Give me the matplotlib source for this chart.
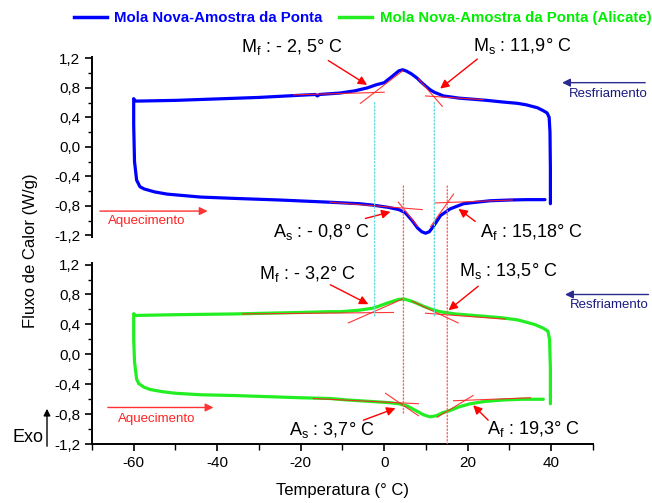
import matplotlib
matplotlib.use("Agg")
import matplotlib.pyplot as plt
from matplotlib.patches import ConnectionPatch, FancyArrowPatch
from matplotlib.lines import Line2D
from matplotlib.ticker import MultipleLocator, FuncFormatter

plt.rcParams['font.family'] = ['Liberation Sans', 'DejaVu Sans']

# ---------------- data ----------------
# Top panel (blue): cooling branch (right -> left) and heating branch (left -> right)
top_cool_T = [39.8, 39.8, 39.7, 39.5, 39.0, 38.1, 36.7, 34.0, 31.9, 28.0, 24.6, 21.4, 18.0, 15.5,
              14.2, 12.0, 11.1, 10.0, 8.8, 7.9, 6.5, 5.2, 4.4, 3.5, 2.0, 0.0, -2.0, -4.0, -7.0,
              -10.5, -13.0, -15.5, -16.0, -16.5, -20.0, -30.0, -40.0, -50.0, -59.5, -60.0]
top_cool_v = [-0.77, -0.30, 0.20, 0.40, 0.46, 0.49, 0.53, 0.57, 0.59, 0.61, 0.63, 0.645, 0.66, 0.68,
              0.69, 0.74, 0.77, 0.82, 0.88, 0.93, 0.99, 1.03, 1.045, 1.03, 0.96, 0.87, 0.84, 0.80, 0.76,
              0.73, 0.72, 0.71, 0.69, 0.71, 0.70, 0.67, 0.65, 0.63, 0.62, 0.65]
top_heat_T = [-60.0, -60.0, -59.8, -59.3, -58.5, -57.5, -55.0, -52.0, -48.0, -44.0, -35.0, -25.0,
              -13.0, -6.0, -2.6, 1.0, 3.5, 5.0, 6.7, 8.0, 9.0, 9.9, 10.8, 12.0, 13.5, 15.8, 19.0,
              22.0, 25.4, 30.0, 34.0, 38.5]
top_heat_v = [0.65, 0.30, -0.20, -0.45, -0.54, -0.57, -0.61, -0.64, -0.66, -0.68, -0.70, -0.72,
              -0.75, -0.77, -0.79, -0.82, -0.85, -0.89, -1.00, -1.10, -1.15, -1.17, -1.15, -1.06,
              -0.93, -0.84, -0.77, -0.75, -0.73, -0.72, -0.715, -0.715]

# Bottom panel (green)
bot_cool_T = [39.8, 39.8, 39.6, 39.2, 38.1, 36.0, 32.0, 28.0, 21.4, 17.0, 13.4, 11.5, 9.5, 7.5,
              6.0, 4.7, 3.5, 1.0, -2.5, -6.0, -10.5, -13.0, -20.0, -36.0, -50.0, -59.5, -60.0]
bot_cool_v = [-0.66, -0.20, 0.20, 0.31, 0.35, 0.40, 0.46, 0.49, 0.52, 0.54, 0.57, 0.60, 0.64, 0.69,
              0.72, 0.74, 0.735, 0.69, 0.62, 0.59, 0.57, 0.57, 0.56, 0.54, 0.53, 0.52, 0.54]
bot_heat_T = [-60.0, -60.0, -59.8, -59.3, -58.8, -57.5, -56.0, -53.0, -50.0, -44.0, -36.0, -28.0,
              -20.0, -13.0, -8.8, -3.0, 1.0, 3.5, 5.5, 7.5, 9.5, 11.0, 12.5, 14.0, 15.8, 18.0,
              20.6, 24.0, 28.5, 33.0, 38.1]
bot_heat_v = [0.54, 0.20, -0.10, -0.33, -0.39, -0.44, -0.47, -0.50, -0.52, -0.54, -0.55, -0.565,
              -0.58, -0.59, -0.61, -0.63, -0.645, -0.66, -0.69, -0.75, -0.81, -0.835, -0.82, -0.78,
              -0.75, -0.70, -0.66, -0.63, -0.61, -0.60, -0.60]

series_labels = ["Mola Nova-Amostra da Ponta", "Mola Nova-Amostra da Ponta (Alicate)"]

# Tangent construction lines ((T0, v0), (T1, v1))
top_tangents = [((-21.7, 0.705), (0.0, 0.74)), ((-5.7, 0.59), (4.4, 1.03)),
                ((9.9, 0.69), (23.7, 0.64)), ((8.2, 0.92), (13.9, 0.55)),
                ((-13.0, -0.75), (9.1, -0.85)), ((3.4, -0.75), (8.0, -1.08)),
                ((12.2, -0.76), (30.7, -0.72)), ((11.1, -1.08), (16.6, -0.64))]
bot_tangents = [((-33.9, 0.54), (2.2, 0.56)), ((-8.6, 0.42), (4.4, 0.74)),
                ((9.9, 0.55), (29.0, 0.47)), ((6.7, 0.71), (17.7, 0.42)),
                ((-17.0, -0.59), (8.2, -0.66)), ((0.3, -0.52), (8.2, -0.82)),
                ((16.6, -0.62), (35.0, -0.58)), ((12.7, -0.84), (21.3, -0.55))]

# Annotations: (label, text position, arrow tail, arrow head)
top_notes = [(r"M$_{\mathregular{f}}$ : - 2, 5° C", (-34.4, 1.35), (-13.4, 1.17), (-4.1, 0.84)),
             (r"M$_{\mathregular{s}}$ : 11,9° C", (21.3, 1.37), (22.3, 1.19), (13.4, 0.79)),
             (r"A$_{\mathregular{s}}$ : - 0,8° C", (-26.7, -1.15), (-4.5, -0.97), (1.5, -0.88)),
             (r"A$_{\mathregular{f}}$ : 15,18° C", (23.0, -1.15), (21.8, -1.01), (17.8, -0.84))]
bot_notes = [(r"M$_{\mathregular{f}}$ : - 3,2° C", (-30.1, 1.08), (-12.9, 0.93), (-3.8, 0.67)),
             (r"M$_{\mathregular{s}}$ : 13,5° C", (17.8, 1.12), (22.5, 0.91), (15.4, 0.59)),
             (r"A$_{\mathregular{s}}$ : 3,7° C", (-22.9, -1.01), (-5.0, -0.88), (2.7, -0.72)),
             (r"A$_{\mathregular{f}}$ : 19,3° C", (24.7, -1.00), (24.9, -0.88), (21.3, -0.68))]

# Vertical guide lines spanning both panels: (T, v_top, v_bottom, colour)
guides = [(-2.3, 0.60, 0.51, "#66dddd"), (12.0, 0.60, 0.51, "#66dddd"),
          (4.6, -0.53, -0.79, "#ff6666"), (15.1, -0.53, -1.19, "#ff6666")]

# Direction arrows: (text, tail, head, text pos)
top_heat_arrow = ("Aquecimento", (-68.1, -0.87), (-42.3, -0.87), (-66.2, -1.01))
bot_heat_arrow = ("Aquecimento", (-66.2, -0.71), (-40.9, -0.71), (-63.8, -0.86))
top_cool_arrow = ("Resfriamento", (62.5, 0.87), (42.6, 0.87), (44.2, 0.72))
bot_cool_arrow = ("Resfriamento", (63.3, 0.80), (43.3, 0.80), (44.5, 0.66))

xticks = [-60, -40, -20, 0, 20, 40]
yticks = [-1.2, -0.8, -0.4, 0.0, 0.4, 0.8, 1.2]

# ---------------- figure ----------------
fig = plt.figure(figsize=(6.52, 5.03), dpi=100)
ax1 = fig.add_axes([0.141, 0.529, 0.7685, 0.358])
ax2 = fig.add_axes([0.141, 0.117, 0.7685, 0.360], sharex=ax1)

blue = "#0000ff"
green = "#22ee22"

def yfmt(v, pos):
    s = f"{v:.1f}".replace(".", ",")
    if s == "-0,0":
        s = "0,0"
    return s

for ax in (ax1, ax2):
    ax.set_xlim(-70, 50)
    ax.set_ylim(-1.22, 1.22)
    for sp in ("top", "right"):
        ax.spines[sp].set_visible(False)
    ax.spines["left"].set_linewidth(1.4)
    ax.spines["bottom"].set_linewidth(1.4)
    ax.set_yticks(yticks)
    ax.yaxis.set_minor_locator(MultipleLocator(0.2))
    ax.yaxis.set_major_formatter(FuncFormatter(yfmt))
    ax.tick_params(axis="y", which="major", length=5, width=1.2, labelsize=11, direction="out")
    ax.tick_params(axis="y", which="minor", length=3, width=1.0, direction="out")
    ax.patch.set_alpha(0)

ax1.spines["bottom"].set_visible(False)
ax1.tick_params(axis="x", which="both", bottom=False, labelbottom=False)
ax2.set_ylim(-1.2, 1.22)
ax2.set_xticks(xticks)
ax2.xaxis.set_minor_locator(MultipleLocator(10))
ax2.xaxis.set_major_formatter(FuncFormatter(lambda v, p: f"{v:.0f}"))
ax2.tick_params(axis="x", which="major", length=5, width=1.2, labelsize=11, direction="out")
ax2.tick_params(axis="x", which="minor", length=4, width=1.0, direction="out")

# curves
ax1.plot(top_cool_T, top_cool_v, color=blue, lw=2.3, solid_capstyle="round", zorder=3)
ax1.plot(top_heat_T, top_heat_v, color=blue, lw=2.3, solid_capstyle="round", zorder=3)
ax2.plot(bot_cool_T, bot_cool_v, color=green, lw=2.3, solid_capstyle="round", zorder=3)
ax2.plot(bot_heat_T, bot_heat_v, color=green, lw=2.3, solid_capstyle="round", zorder=3)

for ax, tans in ((ax1, top_tangents), (ax2, bot_tangents)):
    for (p0, p1) in tans:
        ax.plot([p0[0], p1[0]], [p0[1], p1[1]], color="#ff2020", lw=0.8, zorder=4, alpha=0.9)

for ax, notes in ((ax1, top_notes), (ax2, bot_notes)):
    for label, tpos, tail, head in notes:
        ax.text(tpos[0], tpos[1], label, fontsize=13, ha="left", va="center", clip_on=False)
        ax.annotate("", xy=head, xytext=tail, annotation_clip=False,
                    arrowprops=dict(arrowstyle="-|>", color="red", lw=1.0,
                                    mutation_scale=13, shrinkA=0, shrinkB=0))

for T, vt, vb, col in guides:
    con = ConnectionPatch(xyA=(T, vt), coordsA=ax1.transData, xyB=(T, vb), coordsB=ax2.transData,
                          color=col, lw=1.0, linestyle=(0, (1, 1.5)), zorder=1)
    fig.add_artist(con)

for ax, (txt, tail, head, tpos) in ((ax1, top_heat_arrow), (ax2, bot_heat_arrow)):
    ax.annotate("", xy=head, xytext=tail, annotation_clip=False,
                arrowprops=dict(arrowstyle="-|>", color="#ff3333", lw=1.0, mutation_scale=12,
                                shrinkA=0, shrinkB=0))
    ax.text(tpos[0], tpos[1], txt, color="#ff2222", fontsize=9.5, ha="left", va="center",
            clip_on=False)

for ax, (txt, tail, head, tpos) in ((ax1, top_cool_arrow), (ax2, bot_cool_arrow)):
    ax.annotate("", xy=head, xytext=tail, annotation_clip=False,
                arrowprops=dict(arrowstyle="-|>", color="#2a2a90", lw=1.0, mutation_scale=12,
                                shrinkA=0, shrinkB=0))
    ax.text(tpos[0], tpos[1], txt, color="#1a1a80", fontsize=9.5, ha="left", va="center",
            clip_on=False)

# Exo arrow
fig.add_artist(FancyArrowPatch((47 / 652, 1 - 449 / 503), (47 / 652, 1 - 406 / 503),
                               transform=fig.transFigure, arrowstyle="-|>",
                               mutation_scale=10, color="black", lw=1.0))
fig.text(13 / 652, 1 - 437 / 503, "Exo", fontsize=13, ha="left", va="center")

fig.text(31 / 652, 1 - 251 / 503, "Fluxo de Calor (W/g)", rotation=90, fontsize=12,
         ha="center", va="center")
fig.text(342 / 652, 1 - 490 / 503, "Temperatura (° C)", fontsize=12, ha="center", va="center")

handles = [Line2D([], [], color=blue, lw=2.5), Line2D([], [], color=green, lw=2.5)]
leg = fig.legend(handles, series_labels, loc="center", bbox_to_anchor=(0.556, 0.964), ncol=2,
                 frameon=False, handlelength=2.2, columnspacing=1.1, handletextpad=0.5,
                 prop={"weight": "bold", "size": 10.8})
for t, c in zip(leg.get_texts(), [blue, "#00ee00"]):
    t.set_color(c)

fig.savefig("out.png", dpi=100)
